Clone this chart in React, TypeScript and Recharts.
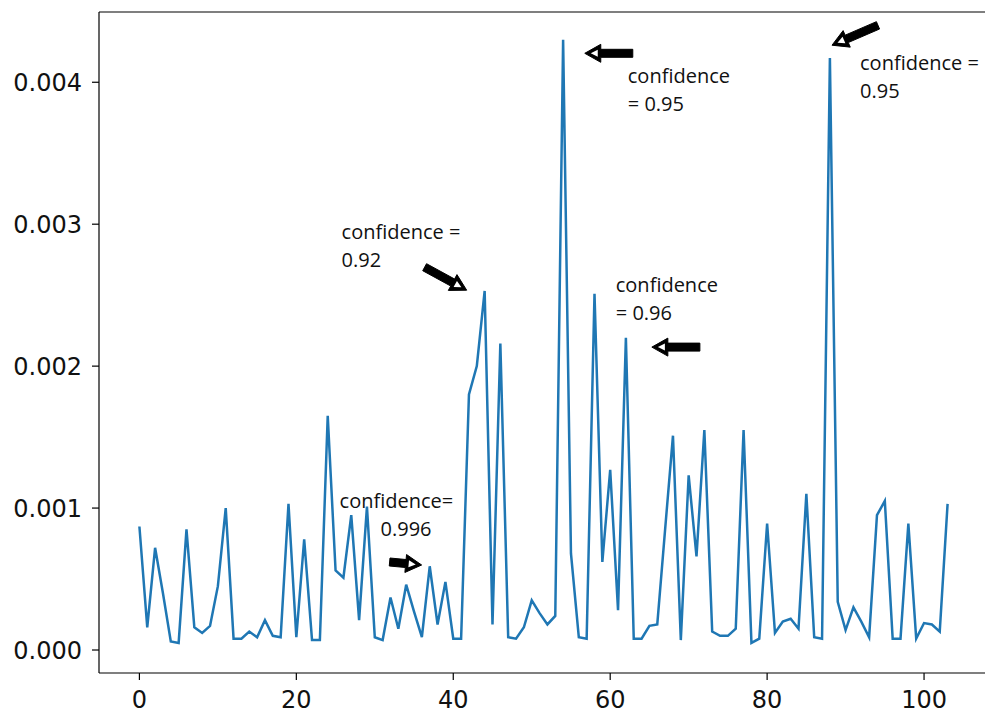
import React from "react";
import {
  LineChart,
  Line,
  XAxis,
  YAxis,
  ReferenceLine,
  ReferenceDot,
} from "recharts";

// values, one per step (0..103)
const values = [
  0.00087, 0.00016, 0.00072, 0.0004, 0.00006, 0.00005, 0.00085, 0.00016, 0.00012, 0.00017,
  0.00045, 0.001, 0.00008, 0.00008, 0.00013, 0.00009, 0.00021, 0.0001, 0.00009, 0.00103,
  0.00009, 0.00078, 0.00007, 0.00007, 0.00165, 0.00056, 0.00051, 0.00095, 0.00021, 0.00101,
  0.00009, 0.00007, 0.00037, 0.00015, 0.00046, 0.00027, 0.00009, 0.00059, 0.00018, 0.00048,
  0.00008, 0.00008, 0.0018, 0.002, 0.00253, 0.00018, 0.00216, 0.00009, 0.00008, 0.00016,
  0.00035, 0.00026, 0.00018, 0.00024, 0.0043, 0.00068, 0.00009, 0.00008, 0.00251, 0.00062,
  0.00127, 0.00028, 0.0022, 0.00008, 0.00008, 0.00017, 0.00018, 0.00085, 0.00151, 0.00007,
  0.00123, 0.00066, 0.00155, 0.00013, 0.0001, 0.0001, 0.00015, 0.00155, 0.00005, 0.00008,
  0.00089, 0.00012, 0.0002, 0.00022, 0.00015, 0.0011, 0.00009, 0.00008, 0.00417, 0.00034,
  0.00014, 0.0003, 0.0002, 0.00009, 0.00095, 0.00105, 0.00008, 0.00008, 0.00089, 0.00008,
  0.00019, 0.00018, 0.00013, 0.00103,
];

const xTicks = [0, 20, 40, 60, 80, 100];
const yTicks = [0, 0.001, 0.002, 0.003, 0.004];
const xDomain = [-5.15, 108.15];
const yDomain = [-0.000162, 0.004495];

// annotations in data units, like matplotlib annotate(xy, xytext)
const annotations = [
  { lines: ["confidence =", "0.92"], text: [25.77, 0.002894], indent: 0, tail: [36.35, 0.002697], tip: [41.71, 0.002535] },
  { lines: ["confidence", "= 0.95"], text: [62.24, 0.003993], indent: 0, tail: [62.88, 0.004204], tip: [56.76, 0.004204] },
  { lines: ["confidence", "= 0.96"], text: [60.71, 0.002521], indent: 0, tail: [71.43, 0.002134], tip: [65.31, 0.002134] },
  { lines: ["confidence =", "0.95"], text: [91.84, 0.004085], indent: 0, tail: [94.13, 0.004401], tip: [88.27, 0.004261] },
  { lines: ["confidence=", "0.996"], text: [25.51, 0.001], indent: 41, tail: [31.89, 0.00062], tip: [35.97, 0.000599] },
];

const data = values.map((v, i) => ({ step: i, value: v }));

const tickFont = { fontFamily: "DejaVu Sans", fontSize: 24, fill: "#111" };

function Arrow(props: any) {
  const { x1, y1, x2, y2 } = props;
  const dx = x2 - x1;
  const dy = y2 - y1;
  const len = Math.sqrt(dx * dx + dy * dy);
  const ux = dx / len;
  const uy = dy / len;
  const nx = -uy;
  const ny = ux;
  const shaft = 4;
  const head = 9;
  const headLen = 16;
  const bx = x2 - ux * headLen;
  const by = y2 - uy * headLen;
  const pts = [
    [x1 + nx * shaft, y1 + ny * shaft],
    [bx + nx * shaft, by + ny * shaft],
    [bx + nx * head, by + ny * head],
    [x2, y2],
    [bx - nx * head, by - ny * head],
    [bx - nx * shaft, by - ny * shaft],
    [x1 - nx * shaft, y1 - ny * shaft],
  ];
  const cx = x2 - ux * 11;
  const cy = y2 - uy * 11;
  const inner = [
    [cx + ux * 5, cy + uy * 5],
    [cx - ux * 2 + nx * 3.5, cy - uy * 2 + ny * 3.5],
    [cx - ux * 2 - nx * 3.5, cy - uy * 2 - ny * 3.5],
  ];
  return (
    <g>
      <polygon points={pts.map((p) => p.join(",")).join(" ")} fill="#000" stroke="#000" strokeWidth={1} />
      <polygon points={inner.map((p) => p.join(",")).join(" ")} fill="#fff" />
    </g>
  );
}

function Note(lines: string[], indent: number) {
  return (props: any) => (
    <text x={props.cx} y={props.cy} fontFamily="Open Sans" fontSize={20} fill="#111">
      <tspan x={props.cx}>{lines[0]}</tspan>
      <tspan x={props.cx + indent} dy={28}>
        {lines[1]}
      </tspan>
    </text>
  );
}

export default function App() {
  return (
    <div
      style={{
        position: "absolute",
        left: 0,
        top: 0,
        width: 985,
        height: 713,
        overflow: "hidden",
        background: "#fff",
      }}
    >
      <LineChart
        width={1010}
        height={713}
        data={data}
        margin={{ top: 12, right: 22, bottom: 0, left: 0 }}
      >
        <XAxis
          dataKey="step"
          type="number"
          domain={xDomain}
          ticks={xTicks}
          allowDataOverflow
          height={40}
          tickSize={7}
          tickMargin={11}
          tick={tickFont}
          axisLine={{ stroke: "#000", strokeWidth: 1.2 }}
          tickLine={{ stroke: "#000", strokeWidth: 1.2 }}
        />
        <YAxis
          type="number"
          domain={yDomain}
          ticks={yTicks}
          allowDataOverflow
          width={99}
          tickSize={7}
          tickMargin={10}
          tick={tickFont}
          tickFormatter={(v: number) => v.toFixed(3)}
          axisLine={{ stroke: "#000", strokeWidth: 1.2 }}
          tickLine={{ stroke: "#000", strokeWidth: 1.2 }}
        />
        {/* top spine of the frame */}
        <ReferenceLine y={yDomain[1]} stroke="#000" strokeWidth={1.2} ifOverflow="visible" />
        <Line
          type="linear"
          dataKey="value"
          stroke="#1f77b4"
          strokeWidth={2.5}
          dot={false}
          activeDot={false}
          isAnimationActive={false}
        />
        {annotations.map((a, i) => (
          <ReferenceLine
            key={"arrow" + i}
            segment={[
              { x: a.tail[0], y: a.tail[1] },
              { x: a.tip[0], y: a.tip[1] },
            ]}
            ifOverflow="visible"
            shape={Arrow}
          />
        ))}
        {annotations.map((a, i) => (
          <ReferenceDot
            key={"note" + i}
            x={a.text[0]}
            y={a.text[1]}
            r={0}
            ifOverflow="visible"
            shape={Note(a.lines, a.indent)}
          />
        ))}
      </LineChart>
    </div>
  );
}
